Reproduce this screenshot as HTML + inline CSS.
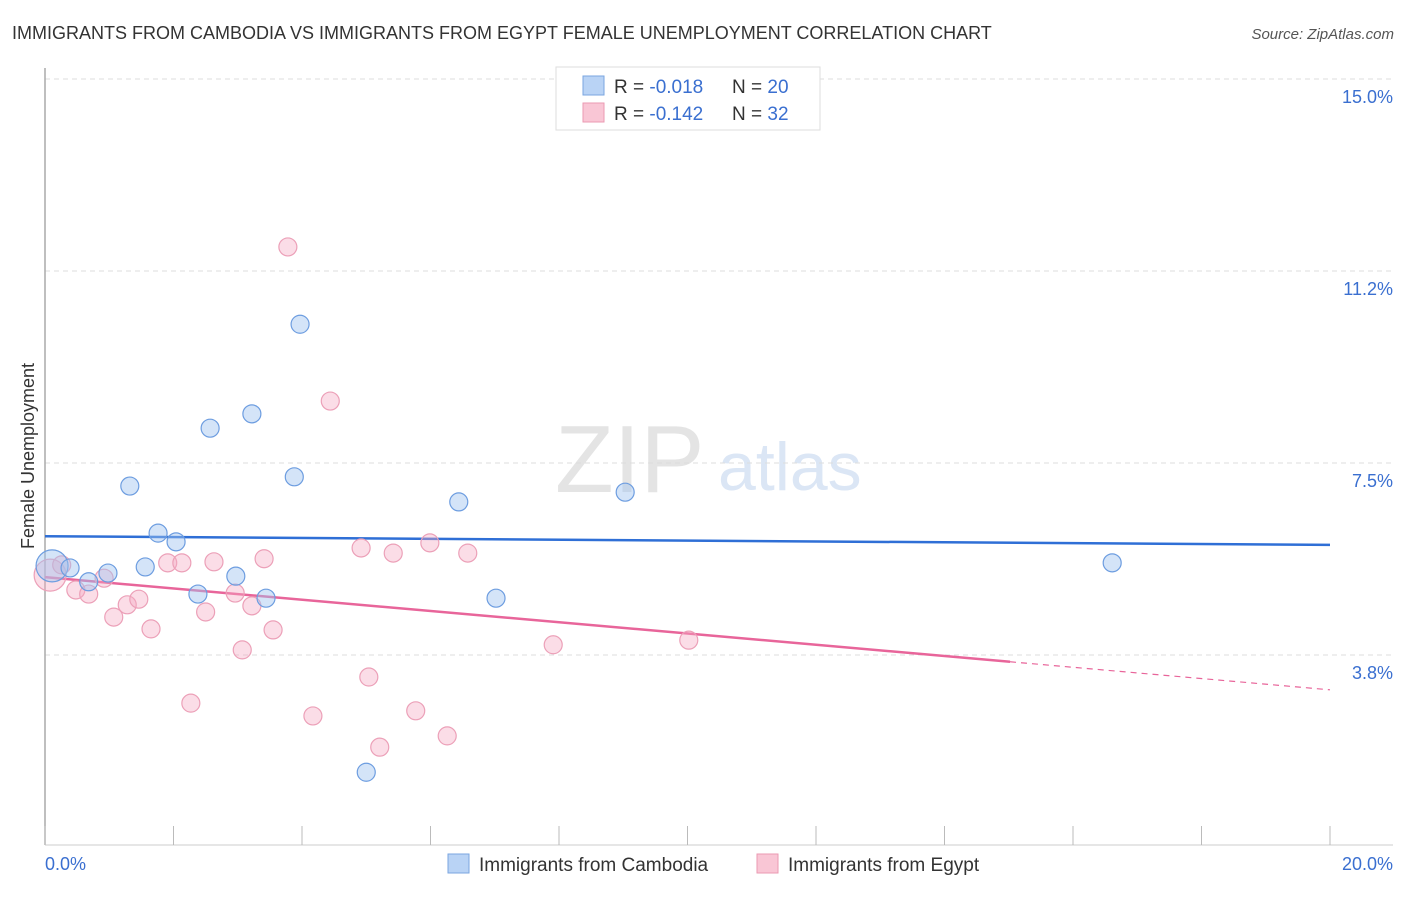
<!DOCTYPE html>
<html><head><meta charset="utf-8"><style>
body{margin:0;background:#fff;font-family:"Liberation Sans",sans-serif}
svg text{font-family:"Liberation Sans",sans-serif}
</style></head><body>
<svg width="1406" height="892" viewBox="0 0 1406 892">
<text x="12" y="39" font-size="18" fill="#333">IMMIGRANTS FROM CAMBODIA VS IMMIGRANTS FROM EGYPT FEMALE UNEMPLOYMENT CORRELATION CHART</text>
<text x="1394" y="39" font-size="15" fill="#555" text-anchor="end" font-style="italic">Source: ZipAtlas.com</text>
<text x="34" y="456" font-size="18" fill="#333" text-anchor="middle" transform="rotate(-90 34 456)">Female Unemployment</text>
<text x="555" y="492" font-size="96" fill="#e4e4e4" font-family="Liberation Serif">ZIP</text>
<text x="718" y="490" font-size="68" fill="#dbe6f5">atlas</text>
<g id="grid"></g><g id="axes"></g><g id="trends"></g><g id="pts"></g>
<g>
<rect x="556" y="67" width="264" height="63" fill="#fff" stroke="#ddd"/>
<rect x="583" y="76" width="21" height="19" fill="#b9d3f5" stroke="#7aa6e0"/>
<rect x="583" y="103" width="21" height="19" fill="#f9c6d5" stroke="#eb9ab2"/>
<text x="614" y="93" font-size="19" fill="#333">R = <tspan fill="#3a6fd0">-0.018</tspan><tspan x="732">N = </tspan><tspan fill="#3a6fd0">20</tspan></text>
<text x="614" y="120" font-size="19" fill="#333">R = <tspan fill="#3a6fd0"> -0.142</tspan><tspan x="732">N = </tspan><tspan fill="#3a6fd0"> 32</tspan></text>
</g>
<g>
<rect x="448" y="854" width="21" height="19" fill="#b9d3f5" stroke="#7aa6e0"/>
<text x="479" y="871" font-size="19" fill="#333">Immigrants from Cambodia</text>
<rect x="757" y="854" width="21" height="19" fill="#f9c6d5" stroke="#eb9ab2"/>
<text x="788" y="871" font-size="19" fill="#333">Immigrants from Egypt</text>
</g>
</svg>
<script>
const yTicks=[3.75,7.5,11.25,15];
const yTickLabels=["3.8%","7.5%","11.2%","15.0%"];
const xTickLabels=["0.0%","20.0%"];
const cambodiaX=[0.11,0.39,0.68,0.98,1.32,1.56,1.76,2.04,2.38,2.57,2.97,3.22,3.44,3.88,3.97,5.00,6.44,7.02,9.03,16.61];
const cambodiaY=[5.49,5.45,5.18,5.35,7.05,5.47,6.13,5.96,4.94,8.18,5.29,8.46,4.86,7.23,10.21,1.46,6.74,4.86,6.93,5.55];
const egyptX=[0.08,0.26,0.48,0.68,0.92,1.07,1.28,1.46,1.65,1.91,2.13,2.27,2.50,2.63,2.96,3.07,3.22,3.41,3.55,3.78,4.17,4.44,4.92,5.04,5.21,5.42,5.77,5.99,6.26,6.58,7.91,10.02];
const egyptY=[5.31,5.51,5.02,4.94,5.25,4.49,4.73,4.84,4.26,5.55,5.55,2.81,4.59,5.57,4.96,3.85,4.71,5.63,4.24,11.72,2.56,8.71,5.84,3.32,1.95,5.74,2.66,5.94,2.17,5.74,3.95,4.04];
const cambodiaTrend=[6.07,5.90];
const egyptTrend=[5.27,3.07];
const egyptSolidEnd=15.02;
const NS="http://www.w3.org/2000/svg";
const xs=v=>45+v/20*1285, ys=v=>847-v*51.2;
function mk(t,a,p){const e=document.createElementNS(NS,t);for(const k in a)e.setAttribute(k,a[k]);p.appendChild(e);return e;}
const grid=document.getElementById('grid'),axes=document.getElementById('axes'),tr=document.getElementById('trends'),pts=document.getElementById('pts');
yTicks.forEach((v,i)=>{
 const l=mk('line',{x1:45,x2:1393,y1:ys(v),y2:ys(v),stroke:'#ddd','stroke-dasharray':'5,4'},grid);
 
 
 const t=mk('text',{x:1393,y:ys(v)+24,'font-size':18,fill:'#3a6fd0','text-anchor':'end'},grid);
 t.textContent=yTickLabels[i];
 
 
});
const ax=mk('line',{x1:45,x2:45,y1:68,y2:845,stroke:'#aaa','stroke-width':1.5},axes);


const bx=mk('line',{x1:45,x2:1393,y1:845,y2:845,stroke:'#ccc'},axes);


for(let i=0;i<=10;i++){
 const t=mk('line',{x1:xs(i*2),x2:xs(i*2),y1:826,y2:845,stroke:'#bbb'},axes);
 
 
}
[[0,'start',45],[20,'end',1393]].forEach((d,i)=>{
 const t=mk('text',{x:d[2],y:870,'font-size':18,fill:'#3a6fd0','text-anchor':d[1]},axes);
 t.textContent=xTickLabels[i];
 
 
});
const bl=mk('line',{x1:xs(0),x2:xs(20),y1:ys(cambodiaTrend[0]),y2:ys(cambodiaTrend[1]),stroke:'#2f6fd6','stroke-width':2.5},tr);


const eAt=x=>egyptTrend[0]+(egyptTrend[1]-egyptTrend[0])*x/20;
const pl=mk('line',{x1:xs(0),x2:xs(egyptSolidEnd),y1:ys(egyptTrend[0]),y2:ys(eAt(egyptSolidEnd)),stroke:'#e8659a','stroke-width':2.5},tr);


const pd=mk('line',{x1:xs(egyptSolidEnd),x2:xs(20),y1:ys(eAt(egyptSolidEnd)),y2:ys(egyptTrend[1]),stroke:'#e8659a','stroke-width':1.2,'stroke-dasharray':'6,5'},tr);


egyptX.forEach((x,i)=>{
 const c=mk('circle',{cx:xs(x),cy:ys(egyptY[i]),r:i==0?16:9,fill:'rgba(246,170,195,0.4)',stroke:'#eca0b8','stroke-width':1.2},pts);
 
 
});
cambodiaX.forEach((x,i)=>{
 const c=mk('circle',{cx:xs(x),cy:ys(cambodiaY[i]),r:i==0?16:9,fill:'rgba(160,195,240,0.45)',stroke:'#6d9de0','stroke-width':1.2},pts);
 
 
});
</script>
</body></html>
